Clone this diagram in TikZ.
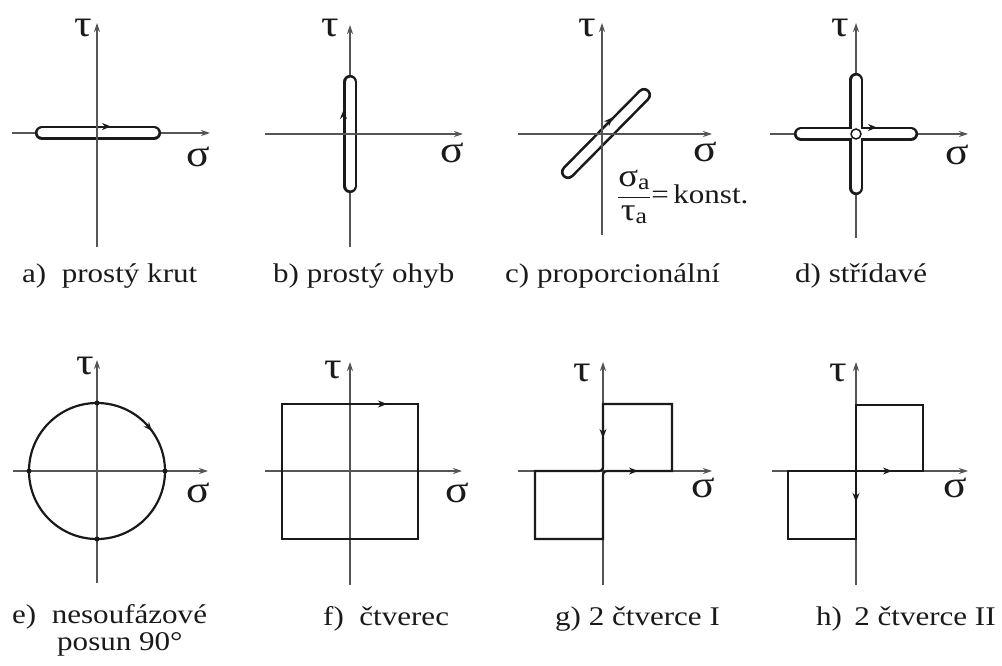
\documentclass[tikz,border=0pt]{standalone}
\usepackage{fontspec}
\setmainfont{Liberation Serif}[FakeStretch=1.15]
\usepackage{tikz}
\usetikzlibrary{arrows.meta}
\definecolor{ink}{HTML}{1A1A1A}
\definecolor{axc}{HTML}{555555}

\begin{document}
\begin{tikzpicture}[x=1pt, y=-1pt,
      ax/.style={axc, line width=1.2pt, -{Stealth[length=9pt, width=6pt]}},
      slot/.style={ink, line width=2.6pt, double=white, double distance=9pt, line cap=round},
      sq/.style={ink, line width=2.2pt},
      tip/.style={ink, line width=1.4pt, -{Stealth[length=9pt, width=7pt]}},
      gr/.style={font=\fontsize{38}{38}\selectfont, text=ink, inner sep=0pt},
      capt/.style={font=\fontsize{27}{29}\selectfont, text=ink, anchor=base west, inner sep=0pt}]
      \useasboundingbox (0,0) rectangle (1002,666);
      % a) prosty krut
      \begin{scope}[shift={(97,133)}]
        \draw[ax] (-85,0) -- (113,0);
        \draw[slot] (-55,0) -- (57,0);
        \draw[ax] (0,114) -- (0,-110);
        \draw[tip] (3,-6.5) -- (14,-6.5);
        \node[gr] (tauA) at (-14,-105) {τ};
        \node[gr] (sigA) at (101,24) {σ};
      \end{scope}
      \node[capt] (capA) at (22,282) {a)~~prostý krut};
      % b) prosty ohyb
      \begin{scope}[shift={(350,134)}]
        \draw[ax] (0,113) -- (0,-109);
        \draw[slot] (0,-52) -- (0,52);
        \draw[ax] (-85,0) -- (113,0);
        \draw[tip] (-6.5,-13) -- (-6.5,-24);
        \node[gr] (tauB) at (-20,-106) {τ};
        \node[gr] (sigB) at (102,19) {σ};
      \end{scope}
      \node[capt] (capB) at (273,282) {b) prostý ohyb};
      % c) proporcionalni
      \begin{scope}[shift={(602,134)}]
        \draw[slot] (-34,38) -- (42,-39);
        \draw[ax] (-84,0) -- (110,0);
        \draw[ax] (0,101) -- (0,-111);
        \draw[tip] (1,-6.6) -- (10.8,-16.6);
        \node[gr] (tauC) at (-15,-106) {τ};
        \node[gr] (sigC) at (103,18) {σ};
      \end{scope}
      \node[font=\fontsize{27}{29}\selectfont, text=ink, anchor=west, inner sep=0pt] (konst) at (617,197)
        {$\displaystyle\frac{\mbox{\fontsize{32}{32}\selectfont σ\textsubscript{a}}}{\mbox{\fontsize{32}{32}\selectfont τ\textsubscript{a}}}$=\,konst.};
      \node[capt] (capC) at (505,282) {c) proporcionální};
      % d) stridave
      \begin{scope}[shift={(856,134)}]
        \draw[ax] (-86,0) -- (112,0);
        \draw[ax] (0,104) -- (0,-111);
        \draw[slot] (-55,0) -- (55,0) (0,-54) -- (0,54);
        \draw[ink, line width=1.5pt] (0,0) circle (5);
        \draw[tip] (10,-6.5) -- (21,-6.5);
        \node[gr] (tauD) at (-16,-106) {τ};
        \node[gr] (sigD) at (101,21) {σ};
      \end{scope}
      \node[capt] (capD) at (795,282) {d) střídavé};
      % e) nesoufazove
      \begin{scope}[shift={(97,471)}]
        \draw[ax] (-84,0) -- (111,0);
        \draw[ax] (0,112) -- (0,-111);
        \draw[sq] (0,0) circle (68);
        \foreach \x/\y in {68/0,-68/0,0/68,0/-68} \fill[ink] (\x,\y) circle (2.5);
        \draw[tip] (48.9,-47.2) -- (55,-40);
        \node[gr] (tauE) at (-12,-105) {τ};
        \node[gr] (sigE) at (101,22) {σ};
      \end{scope}
      \node[capt] (capE) at (12,623) {e)~~nesoufázové};
      \node[capt] (capE2) at (57,650) {posun 90°};
      % f) ctverec
      \begin{scope}[shift={(350,471)}]
        \draw[ax] (-85,0) -- (112,0);
        \draw[ax] (0,114) -- (0,-109);
        \draw[sq] (-68,-67) rectangle (68,68);
        \draw[tip] (25,-67) -- (37,-67);
        \node[gr] (tauF) at (-17,-101) {τ};
        \node[gr] (sigF) at (107,22) {σ};
      \end{scope}
      \node[capt] (capF) at (323,625) {f)~~čtverec};
      % g) 2 ctverce I
      \begin{scope}[shift={(603,471)}]
        \draw[ax] (-85,0) -- (109,0);
        \draw[ax] (0,114) -- (0,-109);
        \draw[sq] (-8,0) -- (-68,0) -- (-68,68) -- (0,68) -- (0,8) .. controls (0,0) .. (8,0)
          -- (69,0) -- (69,-67) -- (0,-67) -- (0,-8) .. controls (0,0) .. (-8,0) -- cycle;
        \draw[tip] (0,-45) -- (0,-33);
        \draw[tip] (23,0) -- (35,0);
        \node[gr] (tauG) at (-21,-98) {τ};
        \node[gr] (sigG) at (100,17) {σ};
      \end{scope}
      \node[capt] (capG) at (555,625) {g) 2 čtverce I};
      % h) 2 ctverce II
      \begin{scope}[shift={(856,471)}]
        \draw[ax] (-84,0) -- (112,0);
        \draw[ax] (0,114) -- (0,-109);
        \draw[sq] (0,0) -- (67,0) -- (67,-66) -- (0,-66) -- (0,68) -- (-68,68) -- (-68,0) -- cycle;
        \draw[tip] (24,0) -- (36,0);
        \draw[tip] (0,19) -- (0,31);
        \node[gr] (tauH) at (-18,-98) {τ};
        \node[gr] (sigH) at (99,17) {σ};
      \end{scope}
      \node[capt] (capH) at (816,625) {h)\,~2 čtverce II};
    \end{tikzpicture}
\end{document}
